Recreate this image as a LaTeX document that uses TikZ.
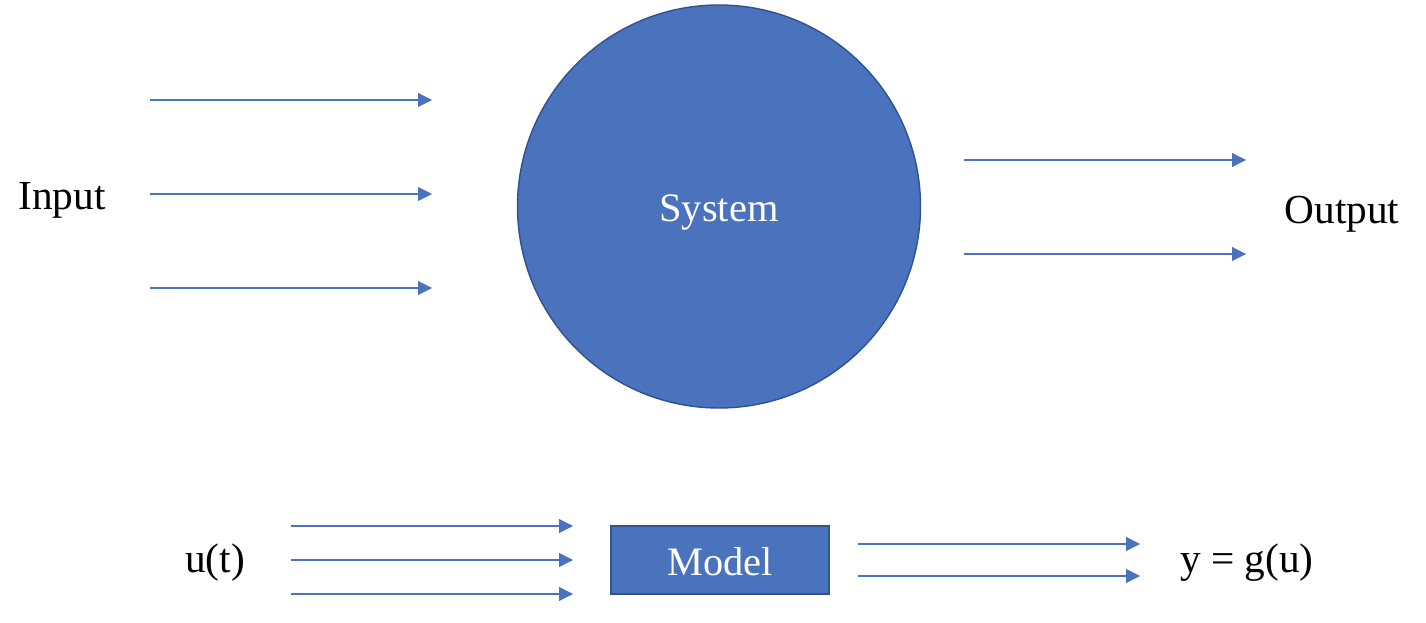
\documentclass[tikz,border=0pt]{standalone}
\usepackage{fontspec}
\setmainfont{Liberation Serif}
\usetikzlibrary{arrows.meta}
\definecolor{sysblue}{HTML}{4A72BD}
\definecolor{sysedge}{HTML}{2F528F}
\tikzset{
  flow/.style={-{Triangle[length=.28cm, width=.28cm]}, sysblue, line width=.6pt},
  lbl/.style={font=\fontsize{23.5}{27}\selectfont},
  blob/.style={fill=sysblue, draw=sysedge, line width=.8pt, text=white, font=\fontsize{23}{27}\selectfont}
}
\begin{document}
\begin{tikzpicture}
                  \useasboundingbox (0, 0) rectangle (28.52, 12.44);
                  \node[blob, circle, minimum size=8.06cm, inner sep=0] (sys) at (14.38, 8.31) {};
                  \node[blob, draw=none, fill=none] (syslbl) at (14.38, 8.2) {System};
                  \node[lbl] (in) at (1.24, 8.44) {Input};
                  \node[lbl] (out) at (26.84, 8.16) {Output};
                  \foreach \j in {10.44, 8.56, 6.68} {
                          \coordinate (a) at (3, \j);
                          \coordinate (b) at (8.64, \j);
                          \draw[flow] (a) -- (b);
                      }
                  \foreach \j in {9.24, 7.36} {
                          \coordinate (a) at (19.28, \j);
                          \coordinate (b) at (24.92, \j);
                          \draw[flow] (a) -- (b);
                      }

                  \node[blob, rectangle, minimum width=4.36cm, minimum height=1.36cm, inner sep=0] (mod) at (14.4, 1.24) {};
                  \node[blob, draw=none, fill=none] (modlbl) at (14.4, 1.2) {Model};
                  \node[lbl] (u) at (4.3, 1.18) {u(t)};
                  \node[lbl] (y) at (24.94, 1.18) {y = g(u)};
                  \foreach \j in {1.92, 1.24, .56} {
                          \coordinate (a) at (5.82, \j);
                          \coordinate (b) at (11.46, \j);
                          \draw[flow] (a) -- (b);
                      }
                  \foreach \j in {1.56, .92} {
                          \coordinate (a) at (17.16, \j);
                          \coordinate (b) at (22.8, \j);
                          \draw[flow] (a) -- (b);
                      }
\end{tikzpicture}
\end{document}
